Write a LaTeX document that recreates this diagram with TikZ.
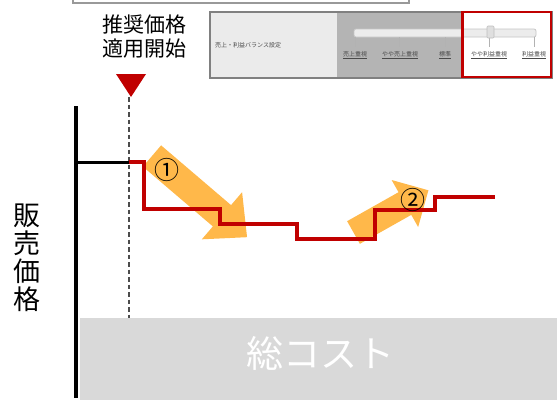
\documentclass[tikz,border=0pt]{standalone}
\usepackage{fontspec}
\setmainfont{Noto Sans CJK JP}
\definecolor{dred}{HTML}{C00000}
\definecolor{orng}{HTML}{FFB84A}
\definecolor{costgray}{HTML}{D9D9D9}
\definecolor{panelL}{HTML}{EBEBEB}
\definecolor{panelM}{HTML}{B4B4B4}
\definecolor{uitext}{HTML}{4A4A4A}
\tikzset{
  uilabel/.style={font=\fontsize{6}{7}\selectfont, text=uitext, inner sep=0pt},
  tickline/.style={draw=gray!60, line width=0.8pt},
  fatarrow/.style={fill=orng, draw=none},
  stepline/.style={draw=dred, line width=3.5pt},
  circnum/.style={font=\fontsize{25}{25}\selectfont, inner sep=0pt},
}
\begin{document}
\begin{tikzpicture}[x=1pt,y=-1pt]
\useasboundingbox (0,0) rectangle (557,400);
% partial box at top
\draw[gray!80, line width=1.5pt] (73,-5) -- (73,3) -- (409,3) -- (409,-5);
% settings panel screenshot
\fill[panelL] (210,12) rectangle (337,78);
\fill[panelM] (337,12) rectangle (461,78);
\fill[white] (461,12) rectangle (552,78);
\draw[gray, line width=1.5pt] (210,12) rectangle (552,78);
\node[uilabel, anchor=west] (ptitle) at (215,45) {売上・利益バランス設定};
\draw[fill=gray!15, draw=gray!45, line width=0.8pt, rounded corners=2pt] (354,29) rectangle (536,37);
\foreach \xx in {355,399,445,489,534} \draw[tickline] (\xx,37) -- (\xx,47);
\draw[fill=gray!25, draw=gray!50, line width=0.6pt, rounded corners=1pt] (487,26) rectangle (494,38);
\node[uilabel] (o1) at (355,55) {\underline{売上重視}};
\node[uilabel] (o2) at (400,55) {\underline{やや売上重視}};
\node[uilabel] (o3) at (445,55) {\underline{標準}};
\node[uilabel] (o4) at (489,55) {\underline{やや利益重視}};
\node[uilabel] (o5) at (534,55) {\underline{利益重視}};
\draw[dred, line width=2.8pt] (462.5,12) rectangle (551,77);
% start label and marker
\node[font=\fontsize{21}{23.5}\selectfont, align=center, inner sep=0pt] (start) at (144,36.5) {推奨価格\\適用開始};
\fill[dred] (116,74) -- (146,74) -- (131,97) -- cycle;
\coordinate (tip) at (129,97);
% total cost box
\node[fill=costgray, minimum width=477pt, minimum height=82pt, anchor=north west, inner sep=0pt] (cost) at (80,318) {};
\node[text=white, font=\fontsize{37}{37}\selectfont, inner sep=0pt] (costlabel) at (320,353) {総コスト};
\draw[dash pattern=on 4.5pt off 3pt, draw=black!70, line width=1.1pt] (tip) -- (tip |- cost.north);
% axis
\node[font=\fontsize{27}{28}\selectfont, align=center, inner sep=0pt] (price) at (27,257.5) {販\\売\\価\\格};
\draw[black, line width=3.5pt] (76,106) -- (76,398);
\draw[black, line width=3pt] (76,162) -- (129,162);
% arrows
\begin{scope}[shift={(152,156)}, rotate=-40.5]
\fill[fatarrow] (0,14) -- (92,14) -- (92,31) -- (125,0) -- (92,-31) -- (92,-14) -- (0,-14) -- cycle;
\end{scope}
\begin{scope}[shift={(353.5,232.5)}, rotate=29.4]
\fill[fatarrow] (0,13) -- (59,13) -- (59,27) -- (86,0) -- (59,-27) -- (59,-13) -- (0,-13) -- cycle;
\end{scope}
% price steps
\draw[stepline] (129,162) -- (144,162) -- (144,209) -- (220,209) -- (220,224) -- (297,224) -- (297,239) -- (375,239) -- (375,210) -- (435,210) -- (435,197) -- (495,197);
\node[circnum] (n1) at (167,170) {①};
\node[circnum] (n2) at (413,200) {②};
\end{tikzpicture}
\end{document}
